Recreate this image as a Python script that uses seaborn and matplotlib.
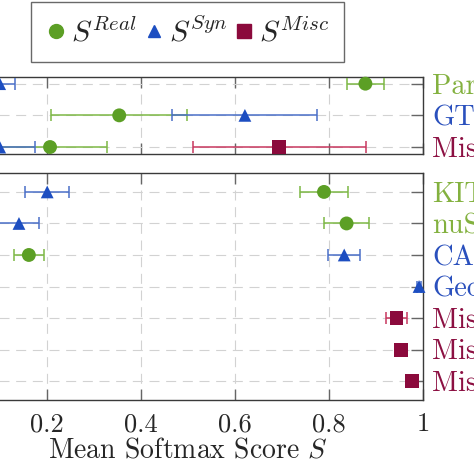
import numpy as np
import pandas as pd
import matplotlib
matplotlib.use("Agg")
import matplotlib.pyplot as plt
from matplotlib.lines import Line2D
import seaborn as sns

# ---------------- data ----------------
top_labels = ["ParisLuco3D", "GTA-LiDAR", "Misc-A"]
top_label_kind = ["Real", "Syn", "Misc"]
top_real = [0.877, 0.354, 0.207]
top_real_err = [0.039, 0.145, 0.122]
top_syn = [0.100, 0.621, 0.100]
top_syn_err = [0.033, 0.154, 0.075]
top_misc_rows = [3]
top_misc = [0.694]
top_misc_err = [0.184]

bot_labels = ["KITTI", "nuScenes", "CARLA", "GeoScenes", "Misc-B", "Misc-C", "Misc-D"]
bot_label_kind = ["Real", "Real", "Syn", "Syn", "Misc", "Misc", "Misc"]
bot_real_rows = [1, 2, 3]
bot_real = [0.789, 0.837, 0.162]
bot_real_err = [0.051, 0.047, 0.032]
bot_syn_rows = [1, 2, 3, 4]
bot_syn = [0.201, 0.141, 0.832, 0.991]
bot_syn_err = [0.047, 0.043, 0.034, 0.005]
bot_misc_rows = [5, 6, 7]
bot_misc = [0.943, 0.952, 0.976]
bot_misc_err = [0.022, 0.010, 0.004]

xticks = [0.0, 0.2, 0.4, 0.6, 0.8, 1.0]
xticklabels = ["0", "0.2", "0.4", "0.6", "0.8", "1"]

# ---------------- style ----------------
sns.set_style("white")
plt.rcParams["font.family"] = ["cmr10", "DejaVu Serif"]
plt.rcParams["mathtext.fontset"] = "cm"
plt.rcParams["axes.formatter.use_mathtext"] = True
plt.rcParams["axes.unicode_minus"] = False

marker_col = {"Real": "#5c9f25", "Syn": "#1d4ec1", "Misc": "#8b0a3c"}
err_col = {"Real": "#7db845", "Syn": "#4a6fc8", "Misc": "#c8385f"}
label_col = {"Real": "#83b13f", "Syn": "#2a50bd", "Misc": "#8c1042"}
markers = {"Real": "o", "Syn": "^", "Misc": "s"}
sizes = {"Real": 100, "Syn": 85, "Misc": 100}


def make_df(rows, vals, errs, kind):
    return pd.DataFrame({"row": rows, "score": vals, "err": errs, "kind": kind})


top_df = pd.concat([
    make_df([1, 2, 3], top_real, top_real_err, "Real"),
    make_df([1, 2, 3], top_syn, top_syn_err, "Syn"),
    make_df(top_misc_rows, top_misc, top_misc_err, "Misc"),
], ignore_index=True)

bot_df = pd.concat([
    make_df(bot_real_rows, bot_real, bot_real_err, "Real"),
    make_df(bot_syn_rows, bot_syn, bot_syn_err, "Syn"),
    make_df(bot_misc_rows, bot_misc, bot_misc_err, "Misc"),
], ignore_index=True)

W = 474
fig = plt.figure(figsize=(4.74, 4.74), dpi=100)
left = -47.4 / W
width = 470.7 / W
ax_top = fig.add_axes([left, (W - 154) / W, width, 77.3 / W])
ax_bot = fig.add_axes([left, (W - 400) / W, width, 227 / W])


def draw(ax, df, labels, label_kinds, ylim):
    for kind in ["Real", "Syn", "Misc"]:
        d = df[df["kind"] == kind]
        ax.errorbar(d["score"], d["row"], xerr=d["err"], fmt="none",
                    ecolor=err_col[kind], elinewidth=1.1, capsize=4,
                    capthick=1.1, zorder=3, clip_on=True)
    sns.scatterplot(data=df, x="score", y="row", hue="kind", style="kind",
                    markers=markers, palette=marker_col, size="kind",
                    sizes=sizes, edgecolor="none", linewidth=0, ax=ax,
                    legend=False, zorder=4, clip_on=False)
    ax.set_xlim(0, 1)
    ax.set_ylim(*ylim)
    ax.set_xticks(xticks)
    rows = list(range(1, len(labels) + 1))
    ax.set_yticks(rows)
    ax.tick_params(axis="y", which="both", direction="in", left=True,
                   right=True, labelleft=False, labelright=True, length=9,
                   width=1, color="#666666", labelsize=20.5, pad=6.5)
    ax.tick_params(axis="x", which="both", direction="in", top=True,
                   bottom=True, length=8, width=1, color="#666666",
                   labelsize=19, pad=9)
    ax.set_yticklabels(labels)
    for tick, k in zip(ax.yaxis.get_major_ticks(), label_kinds):
        tick.label1.set_color(label_col[k])
        tick.label2.set_color(label_col[k])
    ax.grid(True, color="#d2d2d2", linestyle=(0, (9, 6)), linewidth=0.8)
    ax.set_axisbelow(True)
    for s in ax.spines.values():
        s.set_color("#3a3a3a")
        s.set_linewidth(1.0)
    ax.set_ylabel("")


draw(ax_top, top_df, top_labels, top_label_kind, (3.22, 0.78))
draw(ax_bot, bot_df, bot_labels, bot_label_kind, (7.6, 0.4))

ax_top.tick_params(axis="x", labelbottom=False)
ax_top.set_xlabel("")
ax_bot.set_xticklabels(xticklabels)
ax_bot.set_xlabel("Mean Softmax Score $S$", fontsize=20, labelpad=1)

handles = [
    Line2D([], [], linestyle="none", marker="o", color=marker_col["Real"], markersize=10),
    Line2D([], [], linestyle="none", marker="^", color=marker_col["Syn"], markersize=9),
    Line2D([], [], linestyle="none", marker="s", color=marker_col["Misc"], markersize=10),
]
leg = fig.legend(handles, [r"$S^{Real}$", r"$S^{Syn}$", r"$S^{Misc}$"],
                 loc="upper left", bbox_to_anchor=(31 / W, 1 - 2 / W),
                 ncol=3, frameon=True, fancybox=False, fontsize=21.5,
                 handlelength=0.7, handletextpad=0.15, columnspacing=0.2,
                 borderpad=0.5, borderaxespad=0)
leg.get_frame().set_edgecolor("#444444")
leg.get_frame().set_linewidth(1.0)

fig.savefig("out.png", dpi=100)
